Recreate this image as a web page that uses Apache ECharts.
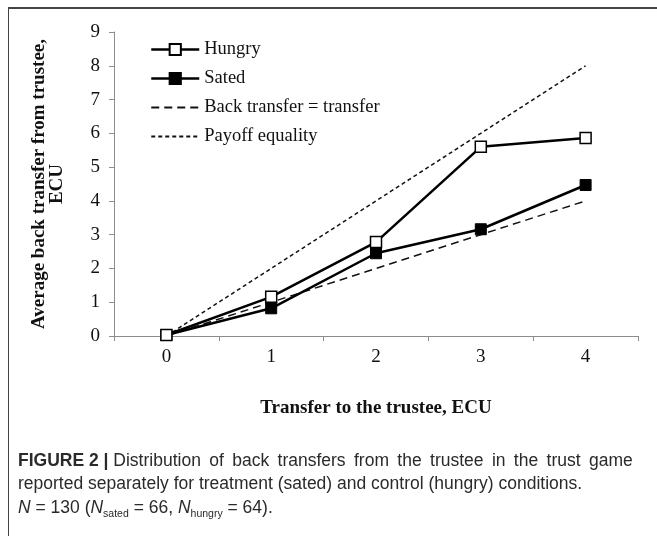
<!DOCTYPE html>
<html>
<head>
<meta charset="utf-8">
<script src="https://cdn.jsdelivr.net/npm/echarts@6/dist/echarts.min.js"></script>
<style>
html,body{margin:0;padding:0;background:#fff;}
#chart{width:657px;height:536px;}
</style>
</head>
<body>
<div id="chart"></div>
<script>
// data
const transfers = ['0', '1', '2', '3', '4'];
const hungry = [0.03, 1.16, 2.78, 5.6, 5.86];
const sated = [0.03, 0.82, 2.45, 3.16, 4.47];
const backEqual = [0, 1, 2, 3, 4];
const payoffEqual = [0, 2, 4, 6, 8];

const serif = '"Liberation Serif", "DejaVu Serif", serif';
const sans = '"Liberation Sans", Arial, sans-serif';

// first caption line is justified in the original, so widen its word gaps a little
const captionLine1 = 'Distribution of back transfers from the trustee in the trust game'.split(' ').join(' \u2009');

var chart = echarts.init(document.getElementById('chart'));

var option = {
    animation: false,
    backgroundColor: '#fff',
    grid: {
        left: 114,
        right: 19,
        top: 32,
        bottom: 200,
        containLabel: false
    },
    legend: {
        orient: 'vertical',
        left: 150,
        top: 40,
        padding: 0,
        itemWidth: 48,
        itemHeight: 14,
        itemGap: 10,
        textStyle: {
            fontFamily: serif,
            fontSize: 18.5,
            color: '#111',
            lineHeight: 17
        },
        data: [
            { name: 'Hungry', lineStyle: { width: 2.5 } },
            { name: 'Sated', lineStyle: { width: 2.5 } },
            { name: 'Back transfer = transfer', itemStyle: { opacity: 0 } },
            { name: 'Payoff equality', itemStyle: { opacity: 0 } }
        ]
    },
    xAxis: {
        type: 'category',
        data: transfers,
        boundaryGap: true,
        name: 'Transfer to the trustee, ECU',
        nameLocation: 'middle',
        nameGap: 63,
        nameTextStyle: {
            fontFamily: serif,
            fontSize: 19,
            fontWeight: 'bold',
            color: '#111'
        },
        axisLine: { lineStyle: { color: '#8c8c8c', width: 1 } },
        axisTick: { show: true, length: 5, lineStyle: { color: '#8c8c8c' } },
        axisLabel: {
            margin: 12,
            fontFamily: serif,
            fontSize: 19,
            color: '#111'
        }
    },
    yAxis: {
        type: 'value',
        min: 0,
        max: 9,
        interval: 1,
        name: 'Average back transfer from trustee,\nECU',
        nameLocation: 'middle',
        nameRotate: 90,
        nameGap: 48,
        nameTextStyle: {
            fontFamily: serif,
            fontSize: 19,
            fontWeight: 'bold',
            color: '#111',
            lineHeight: 18
        },
        splitLine: { show: false },
        axisLine: { show: true, lineStyle: { color: '#8c8c8c', width: 1 } },
        axisTick: { show: true, length: 5, lineStyle: { color: '#8c8c8c' } },
        axisLabel: {
            margin: 14,
            fontFamily: serif,
            fontSize: 19,
            color: '#111'
        }
    },
    series: [
        {
            name: 'Payoff equality',
            type: 'line',
            data: payoffEqual,
            symbol: 'none',
            z: 1,
            lineStyle: { color: '#111', width: 1.5, type: [4, 3] },
            itemStyle: { color: '#111' }
        },
        {
            name: 'Back transfer = transfer',
            type: 'line',
            data: backEqual,
            symbol: 'none',
            z: 1,
            lineStyle: { color: '#111', width: 1.5, type: [8, 5] },
            itemStyle: { color: '#111' }
        },
        {
            name: 'Sated',
            type: 'line',
            data: sated,
            symbol: 'rect',
            symbolSize: 11,
            showAllSymbol: true,
            z: 3,
            lineStyle: { color: '#000', width: 2.5 },
            itemStyle: { color: '#000', borderColor: '#000', borderWidth: 1 }
        },
        {
            name: 'Hungry',
            type: 'line',
            data: hungry,
            symbol: 'rect',
            symbolSize: 11,
            showAllSymbol: true,
            z: 4,
            lineStyle: { color: '#000', width: 2.5 },
            itemStyle: { color: '#fff', borderColor: '#000', borderWidth: 1.5 }
        }
    ],
    graphic: [
        // figure frame: top rule and left rule
        {
            type: 'line',
            shape: { x1: 8, y1: 8, x2: 657, y2: 8 },
            style: { stroke: '#444', lineWidth: 2 }
        },
        {
            type: 'line',
            shape: { x1: 8.5, y1: 8, x2: 8.5, y2: 536 },
            style: { stroke: '#444', lineWidth: 1 }
        },
        {
            type: 'text',
            left: 18,
            top: 449,
            style: {
                text: '{b|FIGURE 2 |} ' + captionLine1 + '\n' +
                      'reported separately for treatment (sated) and control (hungry) conditions.\n' +
                      '{i|N} = 130 ({i|N}{sub|sated} = 66, {i|N}{sub|hungry} = 64).',
                font: '17.5px ' + sans,
                fill: '#2a2a2a',
                lineHeight: 23.5,
                rich: {
                    b: { fontFamily: sans, fontSize: 17.5, fontWeight: 'bold', fill: '#2a2a2a', lineHeight: 23.5 },
                    i: { fontFamily: sans, fontSize: 17.5, fontStyle: 'italic', fill: '#2a2a2a', lineHeight: 23.5 },
                    sub: { fontFamily: sans, fontSize: 10.5, fill: '#2a2a2a', lineHeight: 12, verticalAlign: 'bottom' }
                }
            }
        }
    ]
};

chart.setOption(option);
</script>
</body>
</html>
